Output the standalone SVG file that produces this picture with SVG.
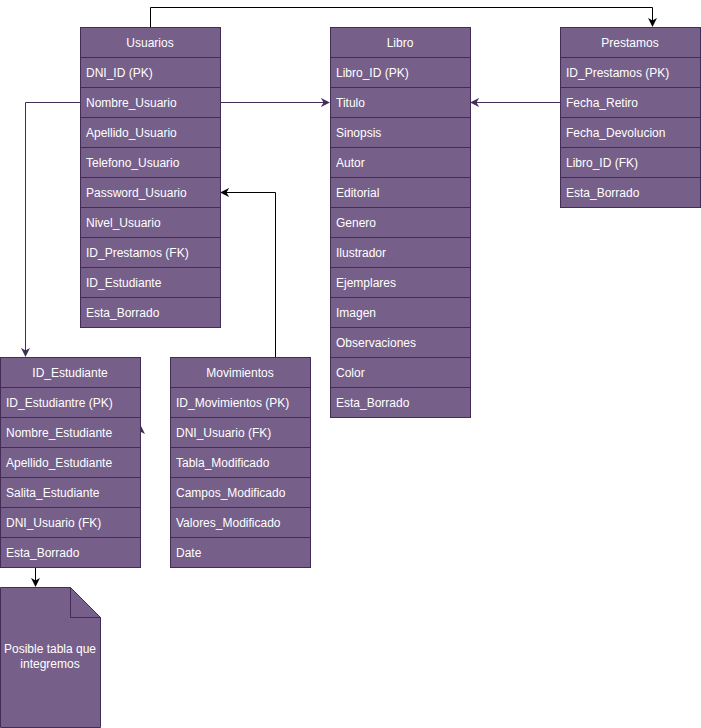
<svg xmlns="http://www.w3.org/2000/svg" width="701" height="728" viewBox="0 0 701 728">
<defs>
<marker id="ab" viewBox="0 0 10 10" refX="9" refY="5" markerWidth="9" markerHeight="9" markerUnits="userSpaceOnUse" orient="auto"><path d="M0,0 L10,5 L0,10 L3,5 Z" fill="#000"/></marker>
<marker id="ap" viewBox="0 0 10 10" refX="9" refY="5" markerWidth="9" markerHeight="9" markerUnits="userSpaceOnUse" orient="auto"><path d="M0,0 L10,5 L0,10 L3,5 Z" fill="#432D57"/></marker>
</defs>
<style>
.b{fill:#76608A;stroke:#432D57;stroke-width:1}
.t{font-family:"Liberation Sans",Arial,sans-serif;font-size:12px;fill:#FFFFFF}
.h{text-anchor:middle}
.cb{fill:none;stroke:#000;stroke-width:1}
.cp{fill:none;stroke:#432D57;stroke-width:1}
</style>
<rect width="701" height="728" fill="#FFFFFF"/>
<g id="connectors">
<path class="cb" d="M150.5,27 V7.5 H652.5 V26" marker-end="url(#ab)"/>
<path class="cp" d="M220,102.5 H329" marker-end="url(#ap)"/>
<path class="cp" d="M560,102.5 H471" marker-end="url(#ap)"/>
<path class="cp" d="M80,102.5 H25.5 V356" marker-end="url(#ap)"/>
<path class="cb" d="M275.5,357 V192.5 H221" marker-end="url(#ab)"/>
<path class="cb" d="M35.5,567 V586" marker-end="url(#ab)"/>
<path d="M141,426 L145,434 L141,432 Z" fill="#432D57"/>
</g>
<g id="usuarios">
<rect class="b" x="80.5" y="27.5" width="140" height="30"/>
<rect class="b" x="80.5" y="57.5" width="140" height="30"/>
<rect class="b" x="80.5" y="87.5" width="140" height="30"/>
<rect class="b" x="80.5" y="117.5" width="140" height="30"/>
<rect class="b" x="80.5" y="147.5" width="140" height="30"/>
<rect class="b" x="80.5" y="177.5" width="140" height="30"/>
<rect class="b" x="80.5" y="207.5" width="140" height="30"/>
<rect class="b" x="80.5" y="237.5" width="140" height="30"/>
<rect class="b" x="80.5" y="267.5" width="140" height="30"/>
<rect class="b" x="80.5" y="297.5" width="140" height="30"/>
<text class="t h" x="150" y="47">Usuarios</text>
<text class="t" x="86" y="77">DNI_ID (PK)</text>
<text class="t" x="86" y="107">Nombre_Usuario</text>
<text class="t" x="86" y="137">Apellido_Usuario</text>
<text class="t" x="86" y="167">Telefono_Usuario</text>
<text class="t" x="86" y="197">Password_Usuario</text>
<text class="t" x="86" y="227">Nivel_Usuario</text>
<text class="t" x="86" y="257">ID_Prestamos (FK)</text>
<text class="t" x="86" y="287">ID_Estudiante</text>
<text class="t" x="86" y="317">Esta_Borrado</text>
</g>
<g id="libro">
<rect class="b" x="330.5" y="27.5" width="140" height="30"/>
<rect class="b" x="330.5" y="57.5" width="140" height="30"/>
<rect class="b" x="330.5" y="87.5" width="140" height="30"/>
<rect class="b" x="330.5" y="117.5" width="140" height="30"/>
<rect class="b" x="330.5" y="147.5" width="140" height="30"/>
<rect class="b" x="330.5" y="177.5" width="140" height="30"/>
<rect class="b" x="330.5" y="207.5" width="140" height="30"/>
<rect class="b" x="330.5" y="237.5" width="140" height="30"/>
<rect class="b" x="330.5" y="267.5" width="140" height="30"/>
<rect class="b" x="330.5" y="297.5" width="140" height="30"/>
<rect class="b" x="330.5" y="327.5" width="140" height="30"/>
<rect class="b" x="330.5" y="357.5" width="140" height="30"/>
<rect class="b" x="330.5" y="387.5" width="140" height="30"/>
<text class="t h" x="400" y="47">Libro</text>
<text class="t" x="336" y="77">Libro_ID (PK)</text>
<text class="t" x="336" y="107">Titulo</text>
<text class="t" x="336" y="137">Sinopsis</text>
<text class="t" x="336" y="167">Autor</text>
<text class="t" x="336" y="197">Editorial</text>
<text class="t" x="336" y="227">Genero</text>
<text class="t" x="336" y="257">Ilustrador</text>
<text class="t" x="336" y="287">Ejemplares</text>
<text class="t" x="336" y="317">Imagen</text>
<text class="t" x="336" y="347">Observaciones</text>
<text class="t" x="336" y="377">Color</text>
<text class="t" x="336" y="407">Esta_Borrado</text>
</g>
<g id="prestamos">
<rect class="b" x="560.5" y="27.5" width="140" height="30"/>
<rect class="b" x="560.5" y="57.5" width="140" height="30"/>
<rect class="b" x="560.5" y="87.5" width="140" height="30"/>
<rect class="b" x="560.5" y="117.5" width="140" height="30"/>
<rect class="b" x="560.5" y="147.5" width="140" height="30"/>
<rect class="b" x="560.5" y="177.5" width="140" height="30"/>
<text class="t h" x="630" y="47">Prestamos</text>
<text class="t" x="566" y="77">ID_Prestamos (PK)</text>
<text class="t" x="566" y="107">Fecha_Retiro</text>
<text class="t" x="566" y="137">Fecha_Devolucion</text>
<text class="t" x="566" y="167">Libro_ID (FK)</text>
<text class="t" x="566" y="197">Esta_Borrado</text>
</g>
<g id="id_estudiante">
<rect class="b" x="0.5" y="357.5" width="140" height="30"/>
<rect class="b" x="0.5" y="387.5" width="140" height="30"/>
<rect class="b" x="0.5" y="417.5" width="140" height="30"/>
<rect class="b" x="0.5" y="447.5" width="140" height="30"/>
<rect class="b" x="0.5" y="477.5" width="140" height="30"/>
<rect class="b" x="0.5" y="507.5" width="140" height="30"/>
<rect class="b" x="0.5" y="537.5" width="140" height="30"/>
<text class="t h" x="70" y="377">ID_Estudiante</text>
<text class="t" x="6" y="407">ID_Estudiantre (PK)</text>
<text class="t" x="6" y="437">Nombre_Estudiante</text>
<text class="t" x="6" y="467">Apellido_Estudiante</text>
<text class="t" x="6" y="497">Salita_Estudiante</text>
<text class="t" x="6" y="527">DNI_Usuario (FK)</text>
<text class="t" x="6" y="557">Esta_Borrado</text>
</g>
<g id="movimientos">
<rect class="b" x="170.5" y="357.5" width="140" height="30"/>
<rect class="b" x="170.5" y="387.5" width="140" height="30"/>
<rect class="b" x="170.5" y="417.5" width="140" height="30"/>
<rect class="b" x="170.5" y="447.5" width="140" height="30"/>
<rect class="b" x="170.5" y="477.5" width="140" height="30"/>
<rect class="b" x="170.5" y="507.5" width="140" height="30"/>
<rect class="b" x="170.5" y="537.5" width="140" height="30"/>
<text class="t h" x="240" y="377">Movimientos</text>
<text class="t" x="176" y="407">ID_Movimientos (PK)</text>
<text class="t" x="176" y="437">DNI_Usuario (FK)</text>
<text class="t" x="176" y="467">Tabla_Modificado</text>
<text class="t" x="176" y="497">Campos_Modificado</text>
<text class="t" x="176" y="527">Valores_Modificado</text>
<text class="t" x="176" y="557">Date</text>
</g>
<g id="posible_tabla">
<path class="b" d="M0.5,587.5 H70.5 L100.5,617.5 V727.5 H0.5 Z"/>
<path class="b" d="M70.5,587.5 V617.5 H100.5 Z"/>
<text class="t h" x="50" y="653">Posible tabla que</text>
<text class="t h" x="50" y="668">integremos</text>
</g>
</svg>
